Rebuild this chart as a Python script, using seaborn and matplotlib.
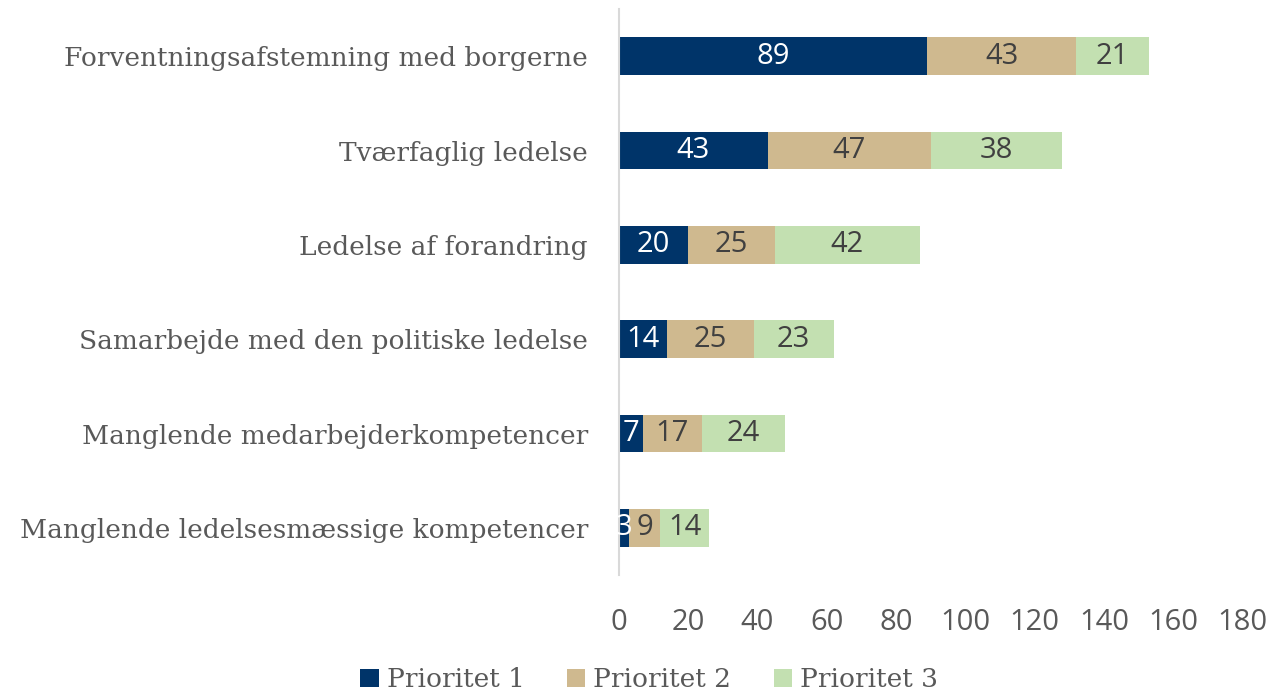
import pandas as pd
import matplotlib.pyplot as plt
import seaborn as sns

# data
kategorier = [
    "Forventningsafstemning med borgerne",
    "Tværfaglig ledelse",
    "Ledelse af forandring",
    "Samarbejde med den politiske ledelse",
    "Manglende medarbejderkompetencer",
    "Manglende ledelsesmæssige kompetencer",
]
prioritet_1 = [89, 43, 20, 14, 7, 3]
prioritet_2 = [43, 47, 25, 25, 17, 9]
prioritet_3 = [21, 38, 42, 23, 24, 14]
serier = ["Prioritet 1", "Prioritet 2", "Prioritet 3"]
farver = ["#003469", "#CFB98F", "#C3E0B1"]
x_ticks = list(range(0, 181, 20))

df = pd.DataFrame({
    "kategori": kategorier,
    "p1": prioritet_1,
    "p2": prioritet_2,
    "p3": prioritet_3,
})
df["cum2"] = df["p1"] + df["p2"]
df["cum3"] = df["cum2"] + df["p3"]

sns.set_theme(style="white")
serif = "DejaVu Serif"
sans = "Open Sans"
grey = "#595959"

fig = plt.figure(figsize=(12.73, 6.92), dpi=100)
ax = fig.add_axes([0.486, 0.169, 0.490, 0.818])

# stacked bars: draw totals first, then the lower parts on top
sns.barplot(data=df, y="kategori", x="cum3", color=farver[2], saturation=1,
            width=0.4, orient="h", ax=ax, label=serier[2], linewidth=0)
sns.barplot(data=df, y="kategori", x="cum2", color=farver[1], saturation=1,
            width=0.4, orient="h", ax=ax, label=serier[1], linewidth=0)
sns.barplot(data=df, y="kategori", x="p1", color=farver[0], saturation=1,
            width=0.4, orient="h", ax=ax, label=serier[0], linewidth=0)

# value labels in the middle of each segment
for i, row in df.iterrows():
    ax.text(row["p1"] / 2, i, str(row["p1"]), ha="center", va="center",
            color="white", fontsize=21, family=sans)
    ax.text(row["p1"] + row["p2"] / 2, i, str(row["p2"]), ha="center", va="center",
            color="#404040", fontsize=21, family=sans)
    ax.text(row["cum2"] + row["p3"] / 2, i, str(row["p3"]), ha="center", va="center",
            color="#404040", fontsize=21, family=sans)

ax.set_xlim(0, 180)
ax.set_xticks(x_ticks)
ax.set_xticklabels([str(t) for t in x_ticks], family=sans, fontsize=21, color=grey)
ax.set_yticks(range(len(kategorier)))
ax.set_yticklabels(kategorier, family=serif, fontsize=19, color=grey)
ax.set_xlabel("")
ax.set_ylabel("")
ax.tick_params(axis="x", length=0, pad=24)
ax.tick_params(axis="y", length=0, pad=22)
for s in ["top", "right", "bottom"]:
    ax.spines[s].set_visible(False)
ax.spines["left"].set_color("#D9D9D9")
ax.spines["left"].set_linewidth(1.5)

handles, labels = ax.get_legend_handles_labels()
handles, labels = handles[::-1], labels[::-1]
if ax.legend_:
    ax.legend_.remove()
fig.legend(handles, labels, loc="lower center", bbox_to_anchor=(0.51, -0.035),
           ncol=3, frameon=False, handlelength=0.7, handleheight=0.7,
           handletextpad=0.3, columnspacing=1.6,
           prop={"family": serif, "size": 19}, labelcolor=grey)

fig.savefig("out.png", dpi=100)
